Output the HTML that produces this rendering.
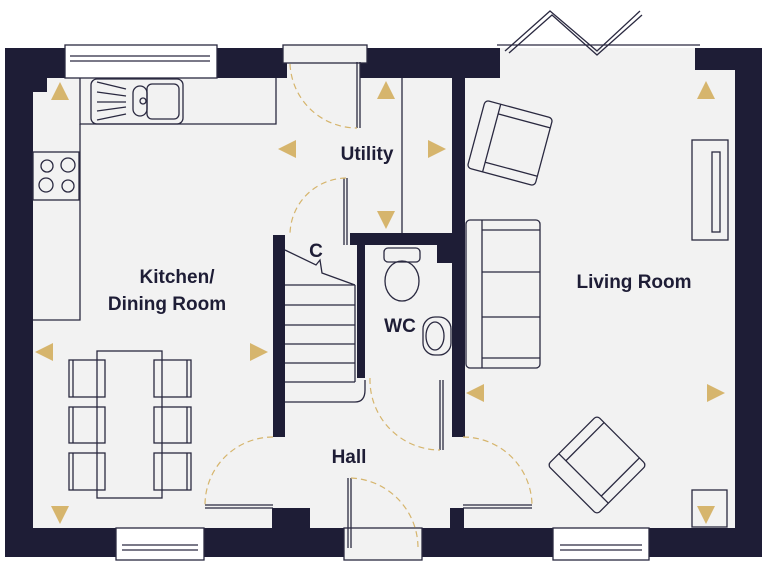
<!DOCTYPE html>
<html><head><meta charset="utf-8"><style>
html,body{margin:0;padding:0;background:#fff;}
svg{display:block}
text{font-family:"Liberation Sans",sans-serif;font-weight:bold;fill:#1e1d36}
</style></head><body>
<svg width="768" height="576" viewBox="0 0 768 576" xmlns="http://www.w3.org/2000/svg">
<rect x="5" y="48" width="757" height="509" fill="#f2f2f2"/>
<g fill="#1e1d36">
<rect x="5" y="48" width="28" height="509"/>
<rect x="5" y="48" width="62" height="30"/>
<rect x="33" y="78" width="14" height="14"/>
<rect x="212" y="48" width="75" height="30"/>
<rect x="360" y="48" width="140" height="30"/>
<rect x="695" y="48" width="67" height="22"/>
<rect x="735" y="48" width="27" height="509"/>
<rect x="5" y="528" width="113" height="29"/>
<rect x="200" y="528" width="147" height="29"/>
<rect x="272" y="508" width="38" height="22"/>
<rect x="418" y="528" width="138" height="29"/>
<rect x="645" y="528" width="117" height="29"/>
<rect x="450" y="508" width="14" height="22"/>
<rect x="273" y="235" width="12" height="202"/>
<rect x="350" y="233" width="115" height="12"/>
<rect x="357" y="233" width="8" height="145"/>
<rect x="437" y="245" width="16" height="18"/>
<rect x="452" y="70" width="13" height="367"/>
</g>
<g fill="none" stroke="#2a2940" stroke-width="1.3">
<rect x="65" y="45" width="152" height="33" fill="#fff"/>
<line x1="70" y1="56" x2="210" y2="56"/><line x1="70" y1="61" x2="210" y2="61"/>
<rect x="283" y="45" width="84" height="18" fill="#f2f2f2"/>
<rect x="116" y="528" width="88" height="32" fill="#fff"/>
<line x1="122" y1="545" x2="198" y2="545"/><line x1="122" y1="550" x2="198" y2="550"/>
<rect x="553" y="528" width="96" height="32" fill="#fff"/>
<line x1="560" y1="545" x2="642" y2="545"/><line x1="560" y1="550" x2="642" y2="550"/>
<rect x="344" y="528" width="78" height="32" fill="#f2f2f2"/>
<line x1="497" y1="45" x2="700" y2="45"/>
<polyline points="505,51 550,11 597,51 640,11"/>
<polyline points="509,53 552,15 597,55 642,15"/>
<polyline points="80,78 80,124 276,124 276,78"/>
<polyline points="33,320 80,320 80,124"/>
<rect x="91" y="79" width="92" height="45" rx="6"/>
<rect x="147" y="84" width="32" height="35" rx="5"/>
<rect x="133" y="86" width="14" height="30" rx="7"/>
<circle cx="143" cy="101" r="3"/>
<line x1="97" y1="82" x2="126" y2="89"/><line x1="97" y1="92" x2="126" y2="96"/>
<line x1="97" y1="102" x2="126" y2="102"/><line x1="97" y1="111" x2="126" y2="107"/><line x1="97" y1="120" x2="126" y2="114"/>
<rect x="33" y="152" width="46" height="48"/>
<circle cx="47" cy="166" r="6"/><circle cx="68" cy="165" r="7"/><circle cx="46" cy="185" r="7"/><circle cx="68" cy="186" r="6"/>
<line x1="402" y1="78" x2="402" y2="233"/>
<line x1="357" y1="62" x2="357" y2="128"/><line x1="360" y1="62" x2="360" y2="128"/>
<line x1="344" y1="178" x2="344" y2="245"/><line x1="347" y1="178" x2="347" y2="245"/>
<rect x="97" y="351" width="65" height="147"/>
<rect x="69" y="360" width="36" height="37"/><rect x="69" y="407" width="36" height="36"/><rect x="69" y="453" width="36" height="37"/>
<rect x="154" y="360" width="37" height="37"/><rect x="154" y="407" width="37" height="36"/><rect x="154" y="453" width="37" height="37"/>
<line x1="73" y1="360" x2="73" y2="397"/><line x1="73" y1="407" x2="73" y2="443"/><line x1="73" y1="453" x2="73" y2="490"/>
<line x1="187" y1="360" x2="187" y2="397"/><line x1="187" y1="407" x2="187" y2="443"/><line x1="187" y1="453" x2="187" y2="490"/>
<polyline points="285,250 316,265 320,260 322,273 355,285"/>
<line x1="355" y1="285" x2="355" y2="382"/>
<line x1="285" y1="285" x2="355" y2="285"/><line x1="285" y1="305" x2="355" y2="305"/>
<line x1="285" y1="325" x2="355" y2="325"/><line x1="285" y1="344" x2="355" y2="344"/>
<line x1="285" y1="363" x2="355" y2="363"/><line x1="285" y1="382" x2="355" y2="382"/>
<path d="M285,402 L355,402 Q365,402 365,390 L365,380"/>
<rect x="384" y="248" width="36" height="14" rx="4"/>
<ellipse cx="402" cy="281" rx="17" ry="20"/>
<rect x="423" y="317" width="28" height="38" rx="12"/>
<ellipse cx="435" cy="336" rx="9" ry="14"/>
<line x1="440" y1="380" x2="440" y2="450"/><line x1="443" y1="380" x2="443" y2="450"/>
<line x1="205" y1="505" x2="273" y2="505"/><line x1="205" y1="508" x2="273" y2="508"/>
<line x1="463" y1="505" x2="532" y2="505"/><line x1="463" y1="508" x2="532" y2="508"/>
<line x1="348" y1="478" x2="348" y2="548"/><line x1="351" y1="478" x2="351" y2="548"/>
<rect x="692" y="140" width="36" height="100"/>
<rect x="712" y="152" width="8" height="80"/>
<rect x="466" y="220" width="74" height="148" rx="4"/>
<line x1="482" y1="220" x2="482" y2="368"/>
<line x1="482" y1="230" x2="540" y2="230"/><line x1="482" y1="272" x2="540" y2="272"/>
<line x1="482" y1="317" x2="540" y2="317"/><line x1="482" y1="358" x2="540" y2="358"/>
<g transform="rotate(15 510 143)">
<rect x="475" y="108" width="70" height="70" rx="4"/>
<line x1="491" y1="108" x2="491" y2="178"/><line x1="491" y1="118" x2="545" y2="118"/><line x1="491" y1="168" x2="545" y2="168"/>
</g>
<g transform="rotate(45 597 465)">
<rect x="562" y="430" width="70" height="70" rx="4"/>
<line x1="562" y1="484" x2="632" y2="484"/><line x1="572" y1="430" x2="572" y2="484"/><line x1="622" y1="430" x2="622" y2="484"/>
</g>
<rect x="692" y="490" width="35" height="37"/>
</g>
<g fill="none" stroke="#d6b56d" stroke-width="1.2" stroke-dasharray="6,4">
<path d="M290,64 A67,67 0 0 0 357,128"/>
<path d="M346,178 A57,57 0 0 0 290,235"/>
<path d="M273,437 A68,68 0 0 0 205,505"/>
<path d="M463,437 A69,69 0 0 1 532,505"/>
<path d="M370,378 A70,70 0 0 0 440,450"/>
<path d="M351,478 A70,70 0 0 1 418,548"/>
</g>
<g fill="#d6b56d">
<polygon points="60,82 69,100 51,100"/>
<polygon points="35,352 53,343 53,361"/>
<polygon points="268,352 250,343 250,361"/>
<polygon points="60,524 51,506 69,506"/>
<polygon points="278,149 296,140 296,158"/>
<polygon points="446,149 428,140 428,158"/>
<polygon points="386,81 395,99 377,99"/>
<polygon points="386,229 377,211 395,211"/>
<polygon points="706,81 715,99 697,99"/>
<polygon points="725,393 707,384 707,402"/>
<polygon points="466,393 484,384 484,402"/>
<polygon points="706,524 697,506 715,506"/>
</g>
<g font-size="19">
<text x="177" y="283" text-anchor="middle">Kitchen/</text>
<text x="167" y="310" text-anchor="middle">Dining Room</text>
<text x="367" y="160" text-anchor="middle">Utility</text>
<text x="316" y="257" text-anchor="middle">C</text>
<text x="400" y="332" text-anchor="middle">WC</text>
<text x="349" y="463" text-anchor="middle">Hall</text>
<text x="634" y="288" text-anchor="middle">Living Room</text>
</g>
</svg>
</body></html>
